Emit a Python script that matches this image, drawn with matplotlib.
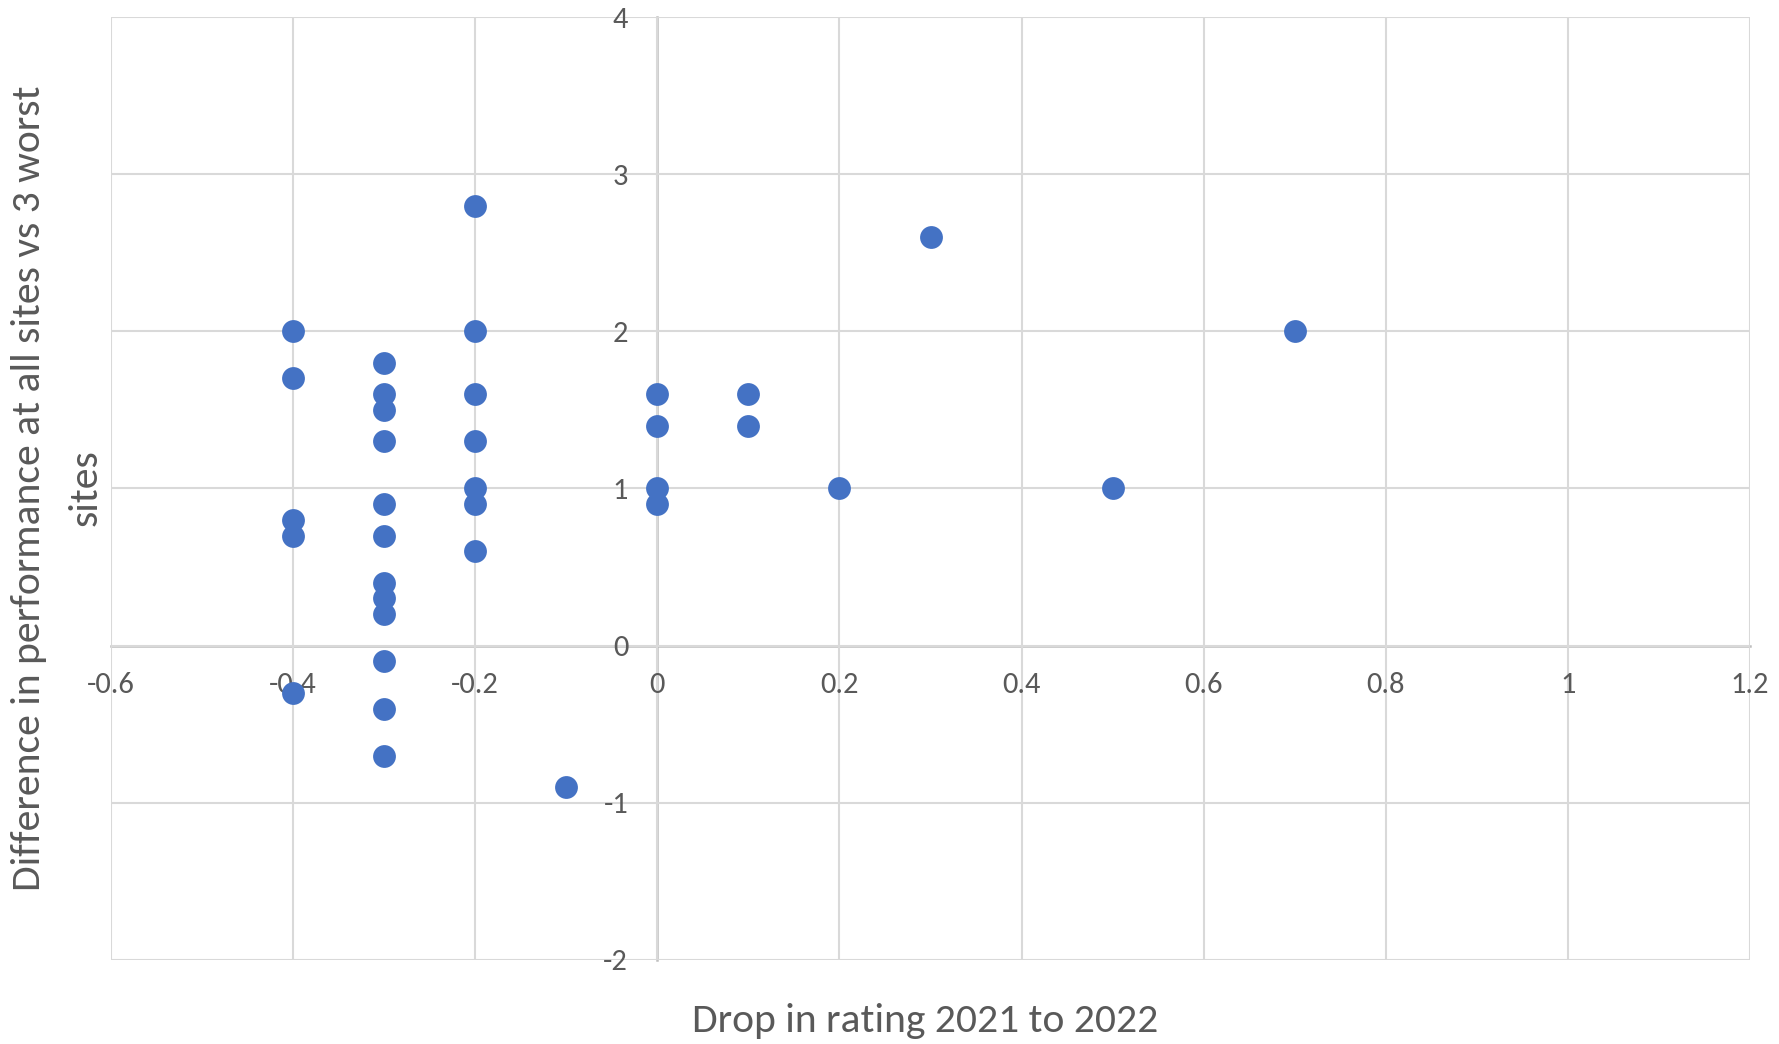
import matplotlib
matplotlib.use("Agg")
import matplotlib.pyplot as plt
import numpy as np

plt.rcParams["font.family"] = ["Carlito", "Liberation Sans Narrow", "Open Sans", "DejaVu Sans"]

# data: drop in rating (x) vs difference in performance (y)
drop_in_rating = [
    -0.4, -0.4, -0.4, -0.4, -0.4,
    -0.3, -0.3, -0.3, -0.3, -0.3, -0.3, -0.3, -0.3, -0.3, -0.3, -0.3, -0.3,
    -0.2, -0.2, -0.2, -0.2, -0.2, -0.2, -0.2,
    -0.1,
    0.0, 0.0, 0.0, 0.0,
    0.1, 0.1,
    0.2, 0.3, 0.5, 0.7,
]
performance_diff = [
    2.0, 1.7, 0.8, 0.7, -0.3,
    1.8, 1.6, 1.5, 1.3, 0.9, 0.7, 0.4, 0.3, 0.2, -0.1, -0.4, -0.7,
    2.8, 2.0, 1.6, 1.3, 1.0, 0.9, 0.6,
    -0.9,
    1.6, 1.4, 1.0, 0.9,
    1.6, 1.4,
    1.0, 2.6, 1.0, 2.0,
]
x_ticks = [-0.6, -0.4, -0.2, 0, 0.2, 0.4, 0.6, 0.8, 1, 1.2]
x_tick_labels = ["-0.6", "-0.4", "-0.2", "0", "0.2", "0.4", "0.6", "0.8", "1", "1.2"]
y_ticks = [-2, -1, 0, 1, 2, 3, 4]
y_tick_labels = ["-2", "-1", "0", "1", "2", "3", "4"]

fig = plt.figure(figsize=(17.79, 10.44), dpi=100)
ax = fig.add_axes([0.0624, 0.0805, 0.9213, 0.9032])

ax.scatter(drop_in_rating, performance_diff, s=270, color="#4472C4", zorder=3, linewidths=0)

ax.set_xlim(-0.6, 1.2)
ax.set_ylim(-2, 4)
ax.set_xticks(x_ticks)
ax.set_xticklabels(x_tick_labels)
ax.set_yticks(y_ticks)
ax.set_yticklabels(y_tick_labels)

ax.grid(True, color="#d9d9d9", linewidth=1.5, zorder=0)
for gl in ax.get_xgridlines() + ax.get_ygridlines():
    gl.set_clip_on(False)

for side in ["top", "right"]:
    ax.spines[side].set_visible(False)
ax.spines["left"].set_position(("data", 0))
ax.spines["bottom"].set_position(("data", 0))
for side in ["left", "bottom"]:
    ax.spines[side].set_color("#bfbfbf")
    ax.spines[side].set_linewidth(1.8)
    ax.spines[side].set_zorder(1)

ax.tick_params(axis="x", length=0, pad=19, labelsize=22, labelcolor="#595959")
ax.tick_params(axis="y", length=0, pad=21, labelsize=22, labelcolor="#595959")

fig.text(0.52, 0.022, "Drop in rating 2021 to 2022", ha="center", va="center",
         fontsize=30, color="#595959")
# y title wraps onto two lines in the original
fig.text(0.0161, 0.5326, "Difference in performance at all sites vs 3 worst",
         ha="center", va="center", rotation=90, fontsize=30, color="#595959")
fig.text(0.0484, 0.5326, "sites",
         ha="center", va="center", rotation=90, fontsize=30, color="#595959")

plt.savefig("out.png", dpi=100)
